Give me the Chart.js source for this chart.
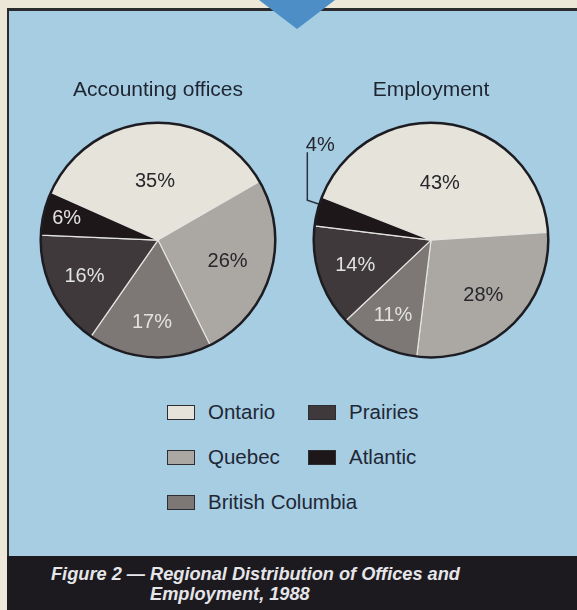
<!DOCTYPE html>
<html>
<head>
<meta charset="utf-8">
<script src="https://cdn.jsdelivr.net/npm/chart.js@4.4.1/dist/chart.umd.min.js"></script>
<style>
  body { margin: 0; width: 577px; height: 610px; background: #ede7d8; position: relative; overflow: hidden;
         font-family: "Liberation Sans", Arial, sans-serif; }
  #panel { position: absolute; left: 7px; top: 8px; width: 570px; height: 548px; background: #a6cde2;
           border-left: 2px solid #2b2b2e; border-top: 3px solid #2b2b2e; box-sizing: border-box; }
  #arrow { position: absolute; left: 259px; top: 0; width: 0; height: 0;
           border-left: 38px solid transparent; border-right: 38px solid transparent; border-top: 29px solid #4d8ec6; }
  #caption { position: absolute; left: 7px; top: 556px; width: 570px; height: 54px; background: #1c1a1f; }
  .cap { position: absolute; color: #e6e6ea; font: italic bold 18.2px/20px "Liberation Sans", Arial, sans-serif; white-space: nowrap; }
  canvas { position: absolute; }
  .item { position: absolute; height: 24px; display: flex; align-items: center; }
  .swatch { width: 28px; height: 15px; border: 1.5px solid #2d2d33; box-sizing: border-box; margin-right: 13px; }
  .item span { font-size: 20.5px; color: #1f2736; }
</style>
</head>
<body>
<div id="panel"></div>
<div id="arrow"></div>
<canvas id="offices" width="260" height="290" style="left:28px; top:70px;"></canvas>
<canvas id="employment" width="260" height="290" style="left:301px; top:70px;"></canvas>
<div id="legend"></div>
<div id="caption"></div>
<div class="cap" style="left:51px; top:564px;">Figure 2 — Regional Distribution of Offices and</div>
<div class="cap" style="left:150px; top:584px;">Employment, 1988</div>

<script>
// data
const regions = ['Ontario', 'Quebec', 'British Columbia', 'Prairies', 'Atlantic'];
const officeShares = [35, 26, 17, 16, 6];
const employmentShares = [43, 28, 11, 14, 4];
const chartTitles = ['Accounting offices', 'Employment'];

const regionColors = ['#e6e4da', '#aba7a3', '#7d7876', '#3f393b', '#1e1719'];
const labelColors = ['#26262c', '#26262c', '#e2e2e2', '#e2e2e2', '#e2e2e2'];

// percent labels inside the slices + dark rim
const sliceLabels = {
  id: 'sliceLabels',
  afterDatasetsDraw(chart, args, opts) {
    const ctx = chart.ctx;
    const arcs = chart.getDatasetMeta(0).data;
    const values = chart.data.datasets[0].data;
    ctx.save();
    ctx.font = '20px "Liberation Sans", Arial, sans-serif';
    ctx.textAlign = 'center';
    ctx.textBaseline = 'middle';
    arcs.forEach((arc, i) => {
      const {x, y, startAngle, endAngle, outerRadius} = arc.getProps(['x', 'y', 'startAngle', 'endAngle', 'outerRadius'], true);
      if (i === opts.outside) {
        const a = startAngle + 0.75 * (endAngle - startAngle);
        const px = x + outerRadius * Math.cos(a), py = y + outerRadius * Math.sin(a);
        const ex = px - 12, ey = py - 4;
        ctx.strokeStyle = '#2a3040';
        ctx.lineWidth = 1.5;
        ctx.beginPath();
        ctx.moveTo(px, py);
        ctx.lineTo(ex, ey);
        ctx.lineTo(ex, ey - 48);
        ctx.stroke();
        ctx.fillStyle = '#26262c';
        ctx.fillText(values[i] + '%', ex + 13, ey - 55);
        return;
      }
      const mid = (startAngle + endAngle) / 2;
      const r = outerRadius * opts.radii[i];
      ctx.fillStyle = labelColors[i];
      ctx.fillText(values[i] + '%', x + r * Math.cos(mid), y + r * Math.sin(mid));
    });
    const a0 = arcs[0];
    ctx.strokeStyle = '#1c1c22';
    ctx.lineWidth = 2.5;
    ctx.beginPath();
    ctx.arc(a0.x, a0.y, a0.outerRadius, 0, Math.PI * 2);
    ctx.stroke();
    ctx.restore();
  }
};

function makePie(id, title, values, rotation, radii, outside) {
  return new Chart(document.getElementById(id), {
    type: 'pie',
    data: {
      labels: regions,
      datasets: [{
        data: values,
        backgroundColor: regionColors,
        borderColor: '#e4e4e0',
        borderWidth: 1.2
      }]
    },
    options: {
      responsive: false,
      animation: false,
      events: [],
      rotation: rotation,
      layout: { padding: { left: 10, right: 10, top: 0, bottom: 2 } },
      plugins: {
        legend: { display: false },
        tooltip: { enabled: false },
        title: {
          display: true,
          text: title,
          color: '#1e2430',
          font: { size: 21, weight: 'normal', family: '"Liberation Sans", Arial, sans-serif' },
          padding: { top: 8, bottom: 19 }
        },
        sliceLabels: { radii: radii, outside: outside }
      }
    },
    plugins: [sliceLabels]
  });
}

makePie('offices', chartTitles[0], officeShares, -66, [0.5, 0.62, 0.7, 0.7, 0.8], -1);
makePie('employment', chartTitles[1], employmentShares, -68.6, [0.49, 0.65, 0.72, 0.68, 0], 4);

// legend in two columns, built from the same arrays
const legend = document.getElementById('legend');
regions.forEach((name, i) => {
  const col = i < 3 ? 0 : 1;
  const row = i < 3 ? i : i - 3;
  const item = document.createElement('div');
  item.className = 'item';
  item.style.left = (167 + col * 141) + 'px';
  item.style.top = (400 + row * 45) + 'px';
  item.innerHTML = '<div class="swatch" style="background:' + regionColors[i] + '"></div><span>' + name + '</span>';
  legend.appendChild(item);
});
</script>
</body>
</html>
